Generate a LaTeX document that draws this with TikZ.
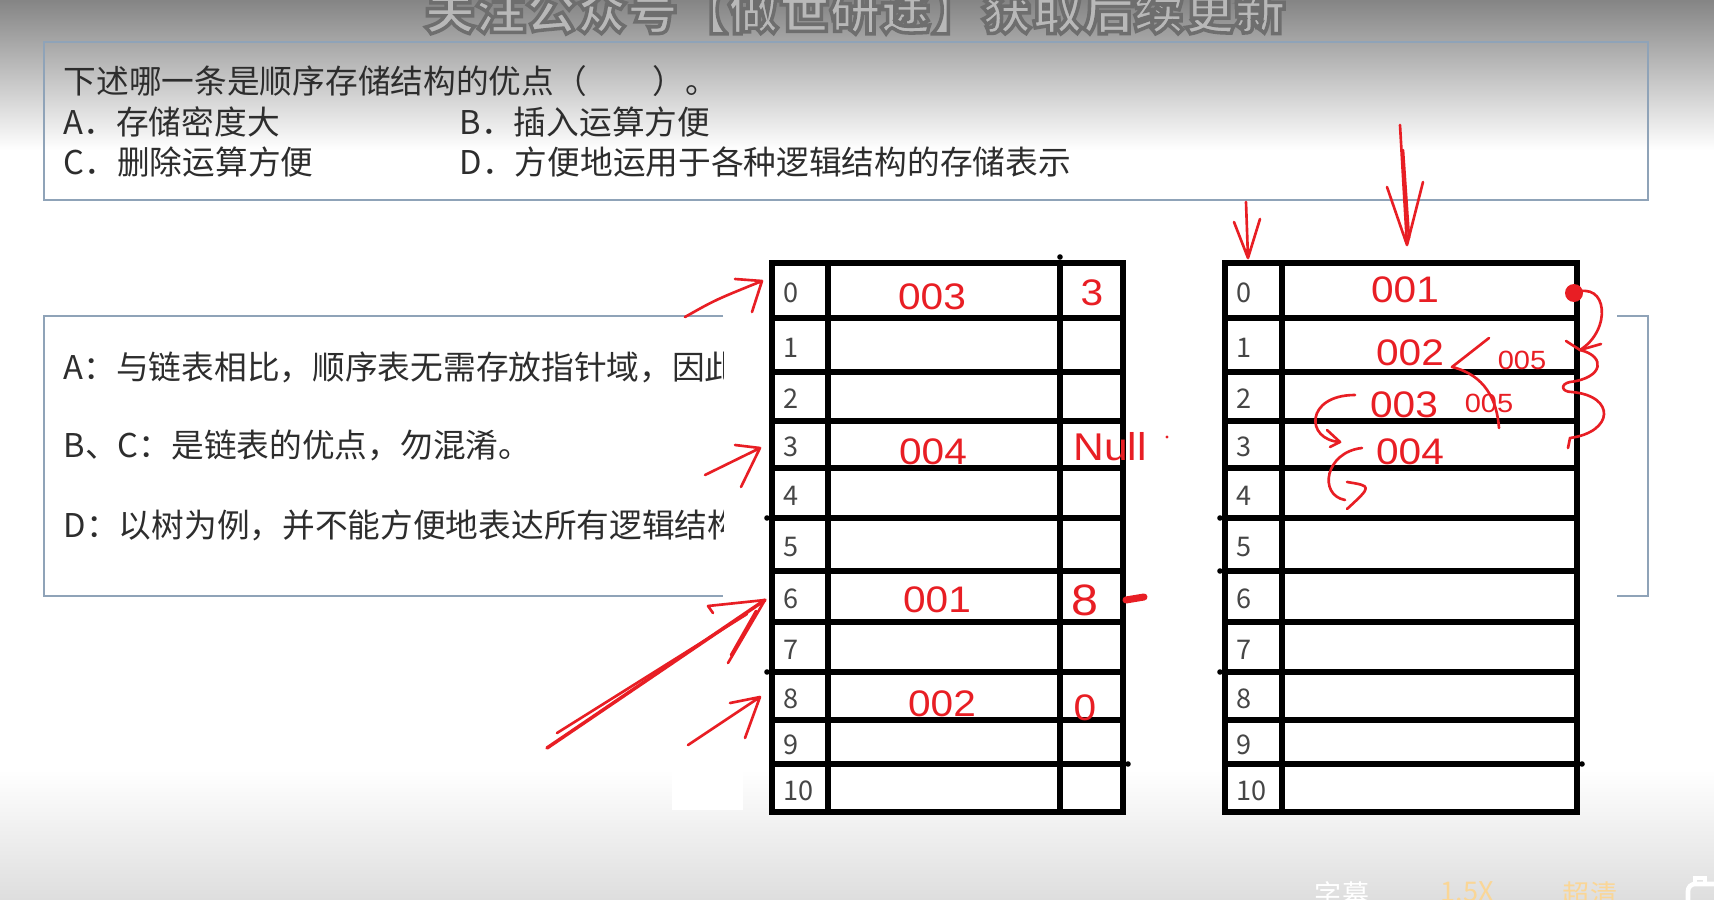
\documentclass[tikz,border=0pt]{standalone}
\usepackage{fontspec}
\newfontfamily\cjk{Noto Sans CJK SC}
\newfontfamily\handfont[FakeStretch=1.1]{Liberation Sans}
\definecolor{InkRed}{RGB}{232,30,36}
\definecolor{FrameBlue}{RGB}{143,163,184}
\definecolor{TextGray}{RGB}{45,45,45}
\definecolor{IndexGray}{RGB}{70,70,70}
\definecolor{MarkFill}{RGB}{184,184,184}
\definecolor{PlayerOrange}{RGB}{250,214,150}

\begin{document}
\begin{tikzpicture}[x=0.01cm, y=-0.01cm,
    body/.style={anchor=west, inner sep=0pt, text=TextGray, font=\cjk\fontsize{9.3}{11}\selectfont},
    idx/.style={anchor=west, inner sep=0pt, text=IndexGray, font=\cjk\fontsize{7.7}{8}\selectfont},
    hand/.style={inner sep=0pt, text=InkRed, font=\handfont\fontsize{10.5}{12}\selectfont},
    smallhand/.style={hand, font=\handfont\fontsize{7.5}{8}\selectfont},
    ink/.style={draw=InkRed, line width=0.75pt, line cap=round, line join=round},
    cellrule/.style={line width=1.45pt, line cap=rect},
    frame/.style={draw=FrameBlue, line width=0.55pt},
    player/.style={anchor=base, inner sep=0pt, font=\cjk\fontsize{7.7}{8}\selectfont}]
    % background
    \fill[white] (0,0) rectangle (1714,900);
    \shade[top color=black!48, bottom color=white] (0,0) rectangle (1714,150);
    \shade[top color=white, bottom color=black!13] (0,770) rectangle (1714,900);
    \useasboundingbox (0,0) rectangle (1714,900);

    % question box
    \draw[frame] (44,42) rectangle (1648,200);
    \node[body] (q)  at (63,81)   {下述哪一条是顺序存储结构的优点（　　）。};
    \node[body] (qa) at (63,122)  {A．存储密度大};
    \node[body] (qb) at (459,122) {B．插入运算方便};
    \node[body] (qc) at (63,162)  {C．删除运算方便};
    \node[body] (qd) at (459,162) {D．方便地运用于各种逻辑结构的存储表示};

    % answer box, covered by the tables
    \draw[frame] (723,316) -- (44,316) -- (44,596) -- (723,596);
    \draw[frame] (1617,316) -- (1648,316) -- (1648,596) -- (1617,596);
    \begin{scope}
      \clip (44,316) rectangle (723,596);
      \node[body] (ea)  at (63,367) {A：与链表相比，顺序表无需存放指针域，因此};
      \node[body] (ebc) at (63,445) {B、C：是链表的优点，勿混淆。};
      \node[body] (ed)  at (63,525) {D：以树为例，并不能方便地表达所有逻辑结构};
    \end{scope}
    \fill[white] (672,766) rectangle (743,810);

    % the two tables
    \fill[white] (772,263) rectangle (1123,812);
    \fill[white] (1225,263) rectangle (1577,812);
    \foreach \y in {263,318,372,421,468,518,571,622,672,720,764,812} {
      \draw[cellrule] (772,\y) -- (1123,\y);
      \draw[cellrule] (1225,\y) -- (1577,\y);
    }
    \foreach \x in {772,828,1060,1123,1225,1282,1577}
      \draw[cellrule] (\x,263) -- (\x,812);
    \foreach \p in {(767,518),(767,672),(1128,764),(1060,257),(1220,518),(1220,571),(1220,672),(1582,764)}
      \fill \p circle (2.8);
    \foreach \yc [count=\i from 0] in {293,348,399,447,496,547,599,650,699,745,791} {
      \node[idx] (a\i) at (783,\yc) {\i};
      \node[idx] (b\i) at (1236,\yc) {\i};
    }

    % red notes, left table
    \node[hand] (a0data) at (932,297) {003};
    \node[hand] (a0next) at (1092,293) {3};
    \node[hand] (a3data) at (933,452) {004};
    \node[hand, font=\handfont\fontsize{11}{12}\selectfont] (a3next) at (1110,447) {Null};
    \fill[InkRed] (1167,437) circle (1.6);
    \node[hand] (a6data) at (937,600) {001};
    \node[hand, font=\handfont\fontsize{12.5}{13}\selectfont] (a6next) at (1085,600) {8};
    \draw[ink, line width=2pt] (1126,600) -- (1144,597);
    \node[hand] (a8data) at (942,704) {002};
    \node[hand] (a8next) at (1085,708) {0};

    \coordinate (tailA0) at (685,317);
    \coordinate (tipA0) at (762,281);
    \draw[ink] (tailA0) .. controls (715,300) .. (tipA0) -- ++(-27,-2) (tipA0) -- ++(-10,31);
    \coordinate (tailA3) at (705,475);
    \coordinate (tipA3) at (760,448);
    \draw[ink] (tailA3) -- (tipA3) -- ++(-25,-3) (tipA3) -- ++(-19,39);
    \coordinate (tailA6) at (547,748);
    \coordinate (tailA6b) at (557,733);
    \coordinate (tipA6) at (765,600);
    \draw[ink, line width=1pt] (tailA6) -- (tipA6);
    \draw[ink] (tailA6b) -- (747,614);
    \draw[ink] (713,613) -- (708,606) -- (tipA6) -- (728,663) (756,611) -- (731,655);
    \coordinate (tailA8) at (688,745);
    \coordinate (tipA8) at (760,697);
    \draw[ink] (tailA8) -- (tipA8) -- ++(-30,6) (tipA8) -- ++(-15,41);

    % red notes, right table
    \coordinate (tailB) at (1246,202);
    \coordinate (tipB) at (1248,258);
    \draw[ink] (tailB) -- (tipB) -- (1234,222) (tipB) -- (1260,219);
    \coordinate (tailC) at (1400,125);
    \coordinate (tipC) at (1407,245);
    \draw[ink] (tailC) -- (tipC) -- (1387,187) (tipC) -- (1423,182);
    \draw[ink] (1403,150) -- (1409,238);

    \node[hand] (b0data) at (1405,290) {001};
    \node[hand] (b1data) at (1410,353) {002};
    \node[hand] (b2data) at (1404,405) {003};
    \node[hand] (b3data) at (1410,452) {004};
    \node[smallhand] (b1new) at (1522,360) {005};
    \node[smallhand] (b2new) at (1489,403) {005};
    \draw[ink] (1489,338) -- (1452,367) .. controls (1485,375) and (1497,400) .. (1499,428);

    \coordinate (dotB) at (1574,293);
    \fill[InkRed] (dotB) circle (9);
    \coordinate (hookB) at (1580,350);
    \draw[ink] (dotB) .. controls (1608,280) and (1612,330) .. (hookB);
    \draw[ink] (1566,341) -- (hookB) -- (1601,344);
    \draw[ink] (hookB) .. controls (1606,356) and (1604,378) .. (1570,382)
      .. controls (1560,384) and (1561,392) .. (1572,392)
      .. controls (1616,396) and (1614,432) .. (1570,438) -- (1568,448);

    \coordinate (startC1) at (1355,395);
    \coordinate (endC1) at (1340,442);
    \draw[ink] (startC1) .. controls (1305,395) and (1305,440) .. (endC1);
    \draw[ink] (1327,430) -- (endC1) -- (1330,447);
    \coordinate (startC2) at (1362,448);
    \coordinate (endC2) at (1347,509);
    \draw[ink] (startC2) .. controls (1325,452) and (1318,495) .. (1345,500);
    \draw[ink] (1347,482) .. controls (1372,486) .. (endC2);

    % player bar
    \node[player, text=white] (subs) at (1342,904) {字幕};
    \node[player, text=PlayerOrange] (speed) at (1467,901) {1.5X};
    \node[player, text=PlayerOrange] (hd) at (1590,904) {超清};
    \draw[white, line width=1.3pt, rounded corners=2] (1688,884) rectangle (1724,912);
    \draw[white, line width=1.3pt] (1695,884) -- (1695,878) -- (1705,878) -- (1705,884);

    % watermark
    \node[anchor=base, inner sep=0pt, text=MarkFill, font=\cjk\bfseries\fontsize{14.4}{15}\selectfont] (mark) at (855,29)
      {\special{pdf:literal direct 0.43 0.43 0.43 RG 2 Tr 1 w}关注公众号【做世研途】获取后续更新\special{pdf:literal direct 0 Tr}};
\end{tikzpicture}
\end{document}
